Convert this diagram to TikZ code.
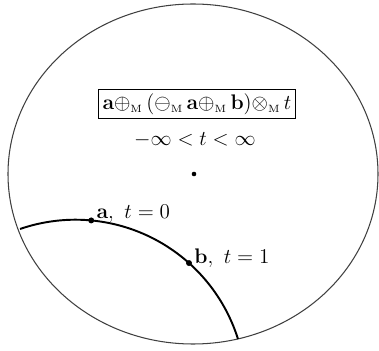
\documentclass[tikz,border=0pt]{standalone}
\usepackage{amsmath,amssymb,amsfonts}
\usepackage{xcolor}
\usetikzlibrary{positioning, calc}

\newcommand{\mplus}{{\oplus_{\scriptscriptstyle\mathrm{M}}}\,}
\newcommand{\mminus}{{\ominus_{\scriptscriptstyle\mathrm{M}}}\,}
\newcommand{\mtimes}{{\otimes_{\scriptscriptstyle\mathrm{M}}}\,}

\begin{document}
\begin{tikzpicture}[x=0.02cm, y=-0.02cm,
    every node/.style={font=\fontsize{12.5}{15}\selectfont},
    gdot/.style={circle, fill=black, inner sep=0pt, minimum size=3.4pt},
    geodesic/.style={line width=1.1pt}]
    \useasboundingbox (0,0) rectangle (379,351);
    % Disk
    \draw[line width=0.6pt, black!75] (193,174) ellipse [x radius=185, y radius=170];
    \node (origin) [gdot, minimum size=2.6pt] at (194,174) {};
    % Formula
    \node (expr) [draw, line width=0.6pt, inner sep=2.5pt] at (197,104)
        {$\mathbf{a}\mplus(\mminus\mathbf{a}\mplus\mathbf{b})\mtimes t$};
    \node (range) at (195,140) {$-\infty<t<\infty$};
    % Geodesic through a and b
    \draw[geodesic] plot[domain=-109:-17.4, samples=80]
        ({75.5+170.3*cos(\x)},{390+170.3*sin(\x)});
    \coordinate (ptA) at ({75.5+170.3*cos(-84.7)},{390+170.3*sin(-84.7)});
    \coordinate (ptB) at ({75.5+170.3*cos(-48.2)},{390+170.3*sin(-48.2)});
    \node (dotA) [gdot] at (ptA) {};
    \node (dotB) [gdot] at (ptB) {};
    \node (labA) [anchor=base west, xshift=-0.5pt, yshift=1pt] at (ptA) {$\mathbf{a},\ t=0$};
    \node (labB) [anchor=base west, xshift=-0.5pt] at (ptB) {$\mathbf{b},\ t=1$};
\end{tikzpicture}
\end{document}
